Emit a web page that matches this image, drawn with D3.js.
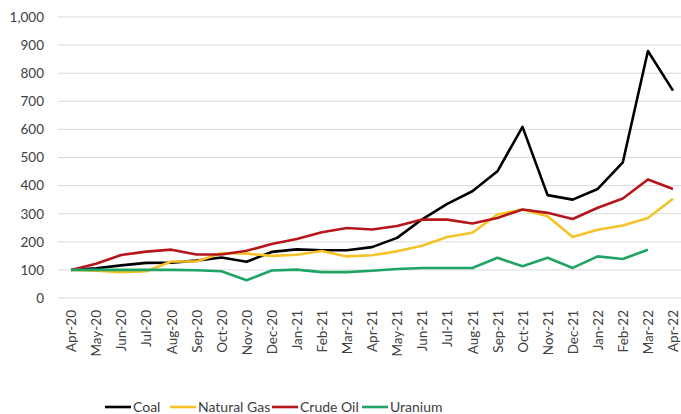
<!DOCTYPE html>
<html>
<head>
<meta charset="utf-8">
<script src="https://cdn.jsdelivr.net/npm/d3@7"></script>
<style>
  html, body { margin: 0; padding: 0; background: #fff; }
  svg { display: block; font-family: Lato, "Open Sans", sans-serif; }
</style>
</head>
<body>
<svg id="chart" width="681" height="414"></svg>
<script>
// Monthly price index (Apr-20 = 100)
const months = ["Apr-20","May-20","Jun-20","Jul-20","Aug-20","Sep-20","Oct-20","Nov-20","Dec-20",
  "Jan-21","Feb-21","Mar-21","Apr-21","May-21","Jun-21","Jul-21","Aug-21","Sep-21","Oct-21","Nov-21","Dec-21",
  "Jan-22","Feb-22","Mar-22","Apr-22"];
const coal = [100,106,116,125,126,133,144,129,164,173,170,170,181,214,280,335,380,451,609,366,350,388,483,879,738];
const naturalGas = [100,97,92,95,130,130,160,158,150,154,167,148,152,166,186,217,232,297,315,291,217,243,258,285,353];
const crudeOil = [100,122,153,165,172,155,155,168,192,210,234,249,244,256,279,279,265,285,315,303,281,321,354,422,388];
const uranium = [100,100,100,100,100,99,95,63,98,101,92,92,97,103,107,107,107,143,113,143,107,148,139,172,null];
const yTicks = [0,100,200,300,400,500,600,700,800,900,1000];

const series = [
  { name: "Coal", values: coal, color: "#000000" },
  { name: "Natural Gas", values: naturalGas, color: "#F5C227" },
  { name: "Crude Oil", values: crudeOil, color: "#B4161B" },
  { name: "Uranium", values: uranium, color: "#1FA463" }
];

const svg = d3.select("#chart");
const x = d3.scalePoint().domain(months).range([71, 673]);
const y = d3.scaleLinear().domain([0, 1000]).range([298, 17]);

// Horizontal gridlines
svg.append("g").selectAll("line").data(yTicks).join("line")
  .attr("x1", 58).attr("x2", 681)
  .attr("y1", d => y(d)).attr("y2", d => y(d))
  .attr("stroke", "#d9d9d9").attr("stroke-width", 1);

// Y axis labels
const yAxis = d3.axisLeft(y).tickValues(yTicks).tickSize(0).tickPadding(0)
  .tickFormat(d3.format(","));
svg.append("g").attr("transform", "translate(44,0)").call(yAxis)
  .call(g => g.select(".domain").remove())
  .selectAll("text")
  .attr("font-family", "Lato, 'Open Sans', sans-serif")
  .attr("font-size", 13.5).attr("fill", "#404040");

// X axis labels, rotated
const xAxis = d3.axisBottom(x).tickSize(0).tickPadding(0);
svg.append("g").attr("transform", "translate(0,310)").call(xAxis)
  .call(g => g.select(".domain").remove())
  .selectAll("text")
  .attr("font-family", "Lato, 'Open Sans', sans-serif")
  .attr("font-size", 13.5).attr("fill", "#404040")
  .attr("text-anchor", "end")
  .attr("dy", "0.35em")
  .attr("transform", "rotate(-90)")
  .attr("x", 0).attr("y", 0);

// Series lines
const line = d3.line()
  .defined(d => d != null)
  .x((d, i) => x(months[i]))
  .y(d => y(d));

svg.append("g").selectAll("path").data(series).join("path")
  .attr("d", s => line(s.values))
  .attr("fill", "none")
  .attr("stroke", s => s.color)
  .attr("stroke-width", 2.6)
  .attr("stroke-linejoin", "round");

// Legend
const legendX = [105, 170, 272, 362];
const legend = svg.append("g").selectAll("g").data(series).join("g")
  .attr("transform", (s, i) => `translate(${legendX[i]},407)`);
legend.append("line")
  .attr("x1", 0).attr("x2", 26).attr("y1", 0).attr("y2", 0)
  .attr("stroke", s => s.color).attr("stroke-width", 2.6);
legend.append("text")
  .attr("x", 28).attr("y", 0).attr("dy", "0.35em")
  .attr("font-size", 14).attr("fill", "#404040")
  .text(s => s.name);
</script>
</body>
</html>
